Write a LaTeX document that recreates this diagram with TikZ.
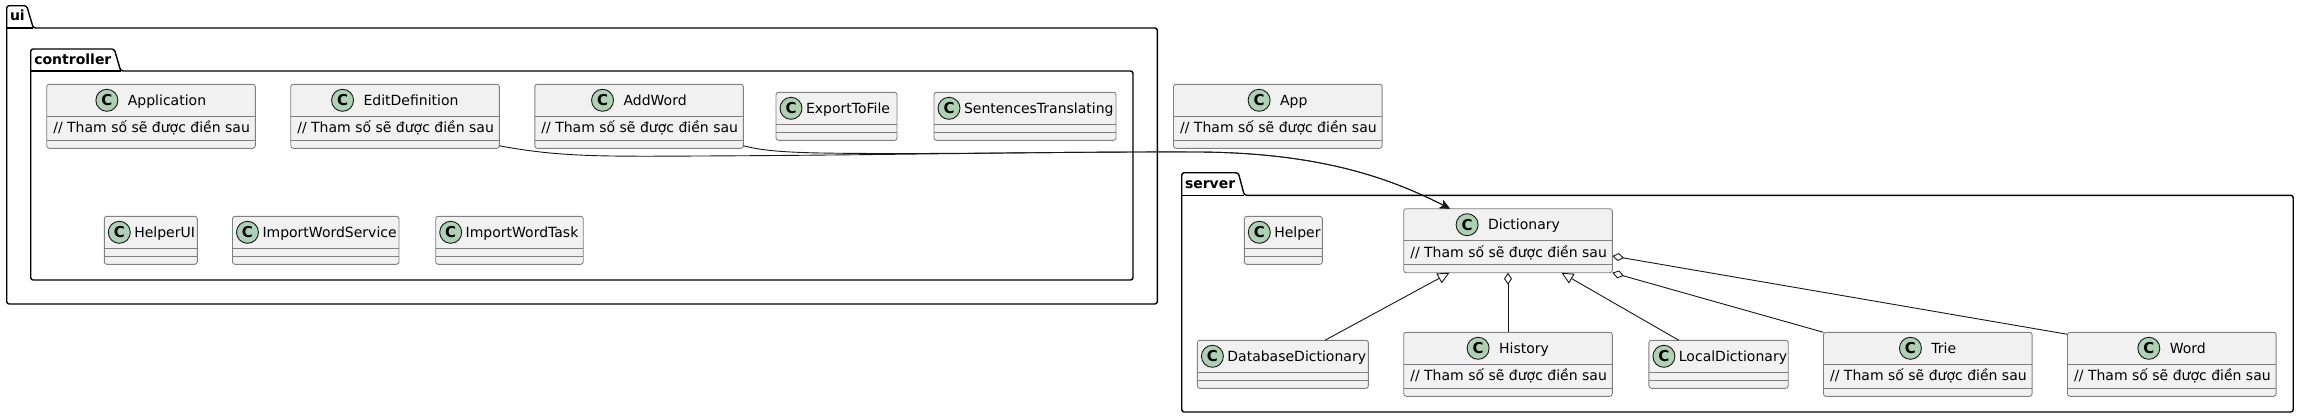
\documentclass[tikz,border=0pt]{standalone}
\usepackage{fontspec}
\setmainfont{DejaVu Sans}
\usetikzlibrary{arrows.meta,calc}
\definecolor{boxfill}{HTML}{F1F1F1}
\definecolor{boxline}{HTML}{808080}
\definecolor{badgefill}{HTML}{ADD1B2}
\definecolor{edgecol}{HTML}{181818}
\tikzset{
  clsbox/.style={rectangle, draw=boxline, fill=boxfill, line width=0.9pt, rounded corners=2.5pt, inner sep=0pt, outer sep=0pt},
  clsline/.style={draw=boxline, line width=0.9pt},
  nametext/.style={inner sep=0pt, outer sep=0pt, font=\fontsize{14}{16}\selectfont},
  badge/.style={circle, draw=edgecol, fill=badgefill, line width=0.9pt, minimum size=22pt, inner sep=0pt, font=\fontsize{15}{16}\selectfont\bfseries},
  pkg/.style={draw=black, line width=1.4pt, rounded corners=2.5pt},
  pkgsep/.style={draw=black, line width=1.4pt},
  pkgtext/.style={inner sep=0pt, outer sep=0pt, anchor=base west, font=\fontsize{14}{16}\selectfont\bfseries},
  dep/.style={draw=edgecol, line width=0.9pt, -{Stealth[length=10pt,width=9pt,inset=2.5pt]}},
  inh/.style={draw=edgecol, line width=0.9pt, -{Triangle[length=12pt,width=11pt,fill=white,line width=0.9pt]}},
  agg/.style={draw=edgecol, line width=0.9pt, -{Diamond[length=12pt,width=8pt,fill=white,line width=0.9pt]}},
}
% class with one attribute row
\newcommand{\umlA}[4]{%
  \node[clsbox, minimum width=208.6pt, minimum height=64pt, anchor=north west] (#1) at (#2,#3) {};
  \draw[clsline] ([yshift=-32pt]#1.north west) -- ([yshift=-32pt]#1.north east);
  \draw[clsline] ([yshift=-56pt]#1.north west) -- ([yshift=-56pt]#1.north east);
  \node[nametext, anchor=base] (#1-name) at ([xshift=16pt,yshift=-21pt]#1.north) {#4};
  \node[badge, xshift=-21pt, yshift=-16pt] (#1-badge) at (#1-name.west |- #1.north) {C};
  \node[nametext, anchor=base west] (#1-attr) at ([xshift=6.6pt,yshift=-48.5pt]#1.north west) {// Tham số sẽ được điền sau};
}
% class with header only
\newcommand{\umlB}[5]{%
  \node[clsbox, minimum width=#4pt, minimum height=48pt, anchor=north west] (#1) at (#2,#3) {};
  \draw[clsline] ([yshift=-32pt]#1.north west) -- ([yshift=-32pt]#1.north east);
  \draw[clsline] ([yshift=-40pt]#1.north west) -- ([yshift=-40pt]#1.north east);
  \node[badge] (#1-badge) at ([xshift=15pt,yshift=-16pt]#1.north west) {C};
  \node[nametext, anchor=base west] (#1-name) at ([xshift=30pt,yshift=-21pt]#1.north west) {#5};
}
\begin{document}
\begin{tikzpicture}[x=1pt,y=-1pt]
\fill[white] (0,0) rectangle (2299,418);
\useasboundingbox (0,0) rectangle (2299,418);

% packages
\draw[pkg] (6.7,304) -- (6.7,5.7) -- (26.7,5.7) -- (33.3,28) -- (1157.3,28) -- (1157.3,304) -- cycle;
\draw[pkgsep] (6.7,28) -- (33.3,28);
\node[pkgtext] (pkgui) at (10,20.7) {ui};

\draw[pkg] (30.7,280) -- (30.7,49) -- (114.3,49) -- (120.7,71) -- (1133,71) -- (1133,280) -- cycle;
\draw[pkgsep] (30.7,71) -- (120.7,71);
\node[pkgtext] (pkgctrl) at (34.3,64) {controller};

\draw[pkg] (1181.7,412) -- (1181.7,172.7) -- (1238.3,172.7) -- (1244.3,195.3) -- (2293.2,195.3) -- (2293.2,412) -- cycle;
\draw[pkgsep] (1181.7,195.3) -- (1244.3,195.3);
\node[pkgtext] (pkgsrv) at (1185,188.3) {server};

% classes in ui.controller
\umlA{appl}{46.7}{84.3}{Application}
\umlA{ed}{290.7}{84.3}{EditDefinition}
\umlA{aw}{534.8}{84.3}{AddWord}
\umlB{etf}{776}{92.3}{121}{ExportToFile}
\umlB{st}{934}{92.3}{182}{SentencesTranslating}
\umlB{hui}{104.3}{216.3}{93}{HelperUI}
\umlB{iws}{232.5}{216.3}{166.5}{ImportWordService}
\umlB{iwt}{435.7}{216.3}{147.5}{ImportWordTask}

% top-level class
\umlA{app}{1173.5}{84.3}{App}

% server classes
\umlB{hlp}{1244.3}{216.3}{78}{Helper}
\umlA{dict}{1403.7}{208.7}{Dictionary}
\umlB{dbd}{1197.4}{340.3}{171}{DatabaseDictionary}
\umlA{hist}{1403.7}{332.3}{History}
\umlB{ld}{1648.9}{340.3}{139.3}{LocalDictionary}
\umlA{trie}{1823.5}{332.3}{Trie}
\umlA{word}{2067.5}{332.3}{Word}

% dependencies
\draw[dep] ([yshift=2.5pt]ed.south east) .. controls (560,157) and (600,156.5) .. (700,156)
  .. controls (900,155) and (1050,151.5) .. (1200,152)
  .. controls (1320,153) and (1390,178) .. ([xshift=-58pt]dict.north);
\draw[dep] ([yshift=2.5pt]aw.south east) .. controls (770,152.5) and (800,153.5) .. (900,153.5)
  .. controls (1000,153.5) and (1100,151.5) .. (1200,152)
  .. controls (1320,153) and (1390,178) .. ([xshift=-58pt]dict.north);

% inheritance
\draw[inh] ([xshift=42pt]dbd.north) -- ([xshift=-58.5pt]dict.south);
\draw[inh] ([xshift=-39.7pt]ld.north) -- ([xshift=53.4pt]dict.south);

% aggregation
\draw[agg] (hist.north) -- (dict.south);
\draw[agg] (trie.north west) -- (dict.south east);
\draw[agg] ([yshift=-2pt]word.north west) -- ([yshift=-47.3pt]dict.north east);
\end{tikzpicture}
\end{document}
